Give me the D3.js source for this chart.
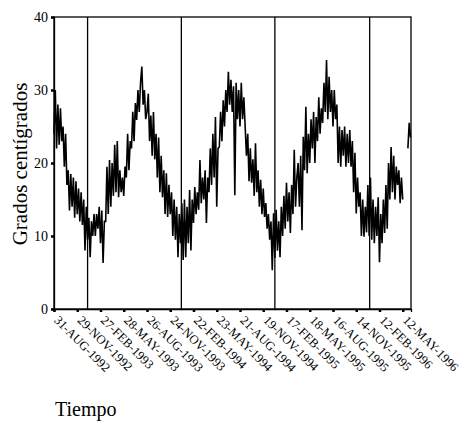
<!DOCTYPE html>
<html>
<head>
<meta charset="utf-8">
<script src="https://cdn.jsdelivr.net/npm/d3@7/dist/d3.min.js"></script>
<style>
  html, body { margin: 0; padding: 0; background: #fff; }
  svg { display: block; }
  text { font-family: "Liberation Serif", "Times New Roman", serif; fill: #000; }
</style>
</head>
<body>
<svg id="chart" width="462" height="421"></svg>
<script>
// ---- data ----
const startDate = "1992-08-31";
const stepDays = 5;
const temps = [
  24, 30, 22, 28,
  22.5, 27.5, 23, 25,
  19.5, 24, 17, 19,
  13.5, 18.5, 14, 18,
  12.5, 17.5, 13, 16.5,
  12, 16, 11.5, 15,
  8, 14, 9.5, 12.5,
  7.1, 12, 10, 13,
  10, 13, 11, 14,
  9, 13.5, 6.3, 12,
  12, 19.5, 13, 20.4,
  14, 20, 15.5, 22.5,
  16, 23, 15.3, 19,
  16, 18, 15.5, 19.5,
  18, 24, 19, 23,
  22, 27, 23, 28.2,
  25.9, 30, 27, 31,
  33.2, 28, 30, 26,
  27, 29.5, 23, 26.5,
  21, 27, 20.5, 24,
  18, 23.5, 16, 21,
  15.3, 19, 13, 18.6,
  12.6, 17, 13, 16,
  10, 15, 9.5, 14,
  7.1, 13, 9, 14.5,
  6.7, 15, 7.1, 14,
  9, 16.3, 8, 15,
  11.8, 16.7, 13, 16,
  13.6, 20.4, 14.5, 18,
  15, 19, 11.8, 18,
  16, 22, 17, 24,
  18, 26.3, 14, 22,
  22.2, 27, 23, 28.6,
  25, 30, 27, 32.5,
  28, 31.4, 27, 30.5,
  15.6, 31, 26, 30,
  25, 31, 26, 29,
  25, 21, 24, 17.5,
  22, 17.3, 20.5, 15.5,
  22.7, 16, 19, 14,
  17.7, 13, 16.5, 12.6,
  14.5, 11, 13, 9.5,
  12, 5.3, 13.1, 7,
  13.6, 8, 12, 7.1,
  14, 10, 15.5, 11,
  17.3, 12, 16, 10.4,
  17, 13, 21.8, 14,
  18, 20, 14, 21,
  10.8, 23.6, 19, 27.7,
  18.6, 24, 20, 26,
  22, 27, 20, 26.3,
  23, 29, 24, 27.5,
  25.5, 31, 27, 34.1,
  26, 31.8, 27, 30,
  25, 30, 26, 28,
  20, 25, 19.5, 24.5,
  21, 25, 19.5, 24,
  20, 24.5, 19.5, 23,
  16, 21.4, 13.1, 18,
  14, 16, 10, 15,
  9.9, 14, 10.5, 17,
  10, 18, 9.5, 15,
  9, 14, 10, 15.3,
  6.4, 13, 9, 15,
  10.4, 17, 11, 20,
  15, 22.2, 16, 21,
  15, 19.5, 17, 19,
  14.5, 18, 15,
  null, null, null,
  22, 25.5, 23.5
];
const xDomain = ["1992-08-31", "1996-06-13"];
const yDomain = [0, 40];
const yTicks = [0, 10, 20, 30, 40];
const tickDates = ["1992-08-31","1992-11-29","1993-02-27","1993-05-28","1993-08-26","1993-11-24",
  "1994-02-22","1994-05-23","1994-08-21","1994-11-19","1995-02-17","1995-05-18","1995-08-16",
  "1995-11-14","1996-02-12","1996-05-12"];
const tickLabels = ["31-AUG-1992","29-NOV-1992","27-FEB-1993","28-MAY-1993","26-AUG-1993","24-NOV-1993",
  "22-FEB-1994","23-MAY-1994","21-AUG-1994","19-NOV-1994","17-FEB-1995","18-MAY-1995","16-AUG-1995",
  "14-NOV-1995","12-FEB-1996","12-MAY-1996"];
const yearLines = ["1993-01-08","1994-01-06","1995-01-03","1996-01-05"];
const yTitle = "Grados centígrados";
const xTitle = "Tiempo";

// ---- drawing ----
(function () {
const parse = d3.utcParse("%Y-%m-%d");
const svg = d3.select("#chart");
const mLeft = 54, mRight = 411, mTop = 17, mBottom = 309;

const x = d3.scaleUtc().domain(xDomain.map(parse)).range([mLeft, mRight]);
const y = d3.scaleLinear().domain(yDomain).range([mBottom, mTop]);

const t0 = parse(startDate);
const series = temps.map((v, i) => ({ date: d3.utcDay.offset(t0, i * stepDays), v }));

// frame
svg.append("rect")
  .attr("x", mLeft).attr("y", mTop)
  .attr("width", mRight - mLeft).attr("height", mBottom - mTop)
  .attr("fill", "none").attr("stroke", "#000").attr("stroke-width", 1.3);

// year separators
svg.append("g").selectAll("line").data(yearLines).join("line")
  .attr("x1", d => x(parse(d))).attr("x2", d => x(parse(d)))
  .attr("y1", mTop).attr("y2", mBottom)
  .attr("stroke", "#000").attr("stroke-width", 1.3);

// series
const line = d3.line()
  .defined(d => d.v != null)
  .x(d => x(d.date))
  .y(d => y(d.v));
svg.append("path").datum(series)
  .attr("d", line)
  .attr("fill", "none").attr("stroke", "#000").attr("stroke-width", 1.6)
  .attr("stroke-linejoin", "miter");

// y axis
const yAxis = svg.append("g").attr("transform", `translate(${mLeft},0)`)
  .call(d3.axisLeft(y).tickValues(yTicks).tickSize(3).tickPadding(3));
yAxis.select(".domain").attr("stroke-width", 1.3);
yAxis.selectAll(".tick line").attr("stroke-width", 2.5);
yAxis.selectAll("text").style("font-family", '"Liberation Serif", serif').style("font-size", "14px");

// x axis
const tickDateObjs = tickDates.map(parse);
const xAxis = svg.append("g").attr("transform", `translate(0,${mBottom})`)
  .call(d3.axisBottom(x).tickValues(tickDateObjs).tickSize(3)
    .tickFormat((d, i) => tickLabels[i]));
xAxis.select(".domain").attr("stroke-width", 1.3);
xAxis.selectAll(".tick line").attr("stroke-width", 2.5);
xAxis.selectAll("text")
  .style("font-family", '"Liberation Serif", serif').style("font-size", "12.5px")
  .attr("x", 0).attr("y", 0).attr("dy", 0)
  .attr("text-anchor", "start")
  .attr("transform", "translate(-1,12) rotate(45)");

// titles
svg.append("text")
  .attr("transform", "translate(27,164) rotate(-90)")
  .attr("text-anchor", "middle")
  .style("font-size", "21px")
  .text(yTitle);
svg.append("text")
  .attr("x", 55).attr("y", 416)
  .style("font-size", "20px")
  .text(xTitle);
})();
</script>
</body>
</html>
